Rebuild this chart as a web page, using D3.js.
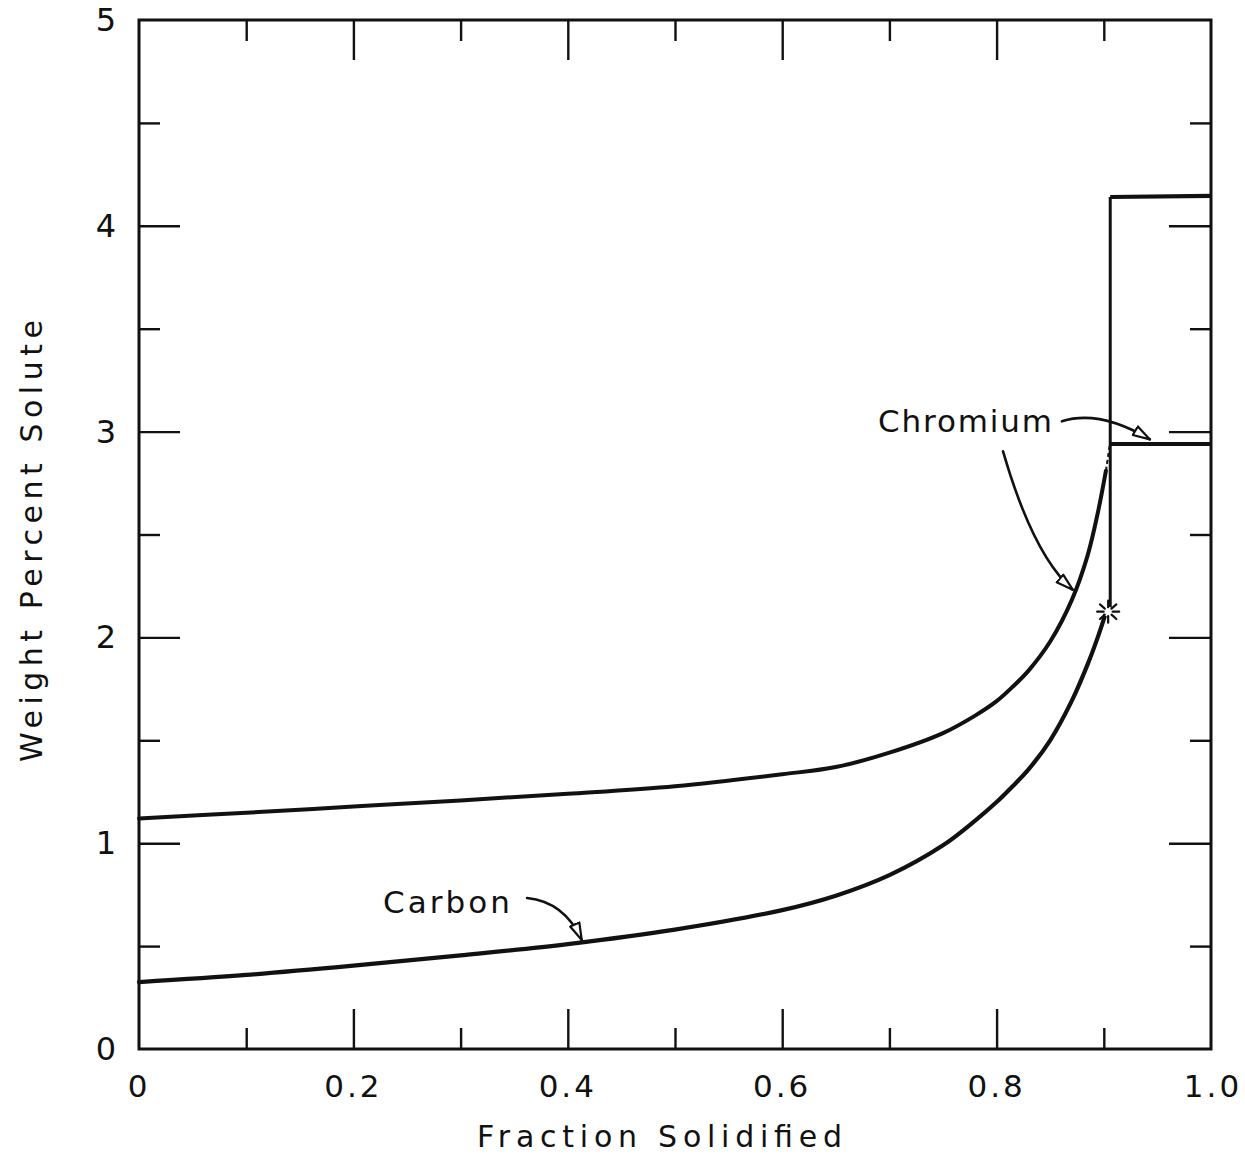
<!DOCTYPE html>
<html>
<head>
<meta charset="utf-8">
<script src="https://cdn.jsdelivr.net/npm/d3@7"></script>
<style>
  html, body { margin: 0; padding: 0; background: #fff; }
  svg text { font-family: "DejaVu Sans", sans-serif; fill: #111; }
</style>
</head>
<body>
<svg id="chart" width="1245" height="1157"></svg>
<script>
// Fraction solidified grid shared by both liquid-composition curves
const fractionSolid = [0, 0.1, 0.2, 0.3, 0.4, 0.5, 0.6, 0.65, 0.7, 0.75, 0.78, 0.8, 0.815, 0.83, 0.85, 0.87, 0.885, 0.895, 0.902];
// Weight percent chromium in the liquid
const chromiumWt = [1.12, 1.148, 1.178, 1.208, 1.24, 1.277, 1.335, 1.37, 1.44, 1.535, 1.62, 1.69, 1.76, 1.84, 1.98, 2.18, 2.40, 2.62, 2.81];
// Weight percent carbon in the liquid
const carbonWt = [0.325, 0.36, 0.405, 0.455, 0.51, 0.58, 0.675, 0.745, 0.845, 0.99, 1.11, 1.20, 1.277, 1.36, 1.50, 1.69, 1.87, 2.01, 2.12];

// Eutectic point and the final-liquid plateaus
const eutecticFraction = 0.905;
const eutecticCarbon = 2.125;
const chromiumPlateau = [[0.902, 2.81], [0.906, 2.95]];   // faint rise into the plateau
const chromiumFinal = [[0.906, 2.94], [1.0, 2.94]];
const carbonFinal = [[0.906, 2.125], [0.906, 4.14], [1.0, 4.145]];

// Axis ticks
const xMajor = [0, 0.2, 0.4, 0.6, 0.8, 1.0];
const xMajorLabels = ["0", "0.2", "0.4", "0.6", "0.8", "1.0"];
const xMinor = [0.1, 0.3, 0.5, 0.7, 0.9];
const yMajor = [0, 1, 2, 3, 4, 5];
const yMajorLabels = ["0", "1", "2", "3", "4", "5"];
const yMinor = [0.5, 1.5, 2.5, 3.5, 4.5];

// Labelled arrows: [start, control, tip] in data units
const carbonArrow = [[0.362, 0.734], [0.397, 0.715], [0.413, 0.530]];
const chromiumArrowCurve = [[0.806, 2.904], [0.834, 2.400], [0.871, 2.232]];
const chromiumArrowStep = [[0.861, 3.050], [0.896, 3.108], [0.943, 2.962]];

const svg = d3.select("#chart");
const x = d3.scaleLinear().domain([0, 1]).range([139, 1211]);
const y = d3.scaleLinear().domain([0, 5]).range([1049, 20]);

const ink = "#111";

// Arrowhead: open, elongated triangle
const defs = svg.append("defs");
defs.append("marker")
  .attr("id", "openHead")
  .attr("viewBox", "-1 -7 20 14")
  .attr("refX", 17).attr("refY", 0)
  .attr("markerWidth", 20).attr("markerHeight", 14)
  .attr("markerUnits", "userSpaceOnUse")
  .attr("orient", "auto")
  .append("path")
  .attr("d", "M0,-5 L17,0 L0,5 Z")
  .attr("fill", "#fff").attr("stroke", ink).attr("stroke-width", 2.2)
  .attr("stroke-linejoin", "round");

// Frame
svg.append("rect")
  .attr("x", x(0)).attr("y", y(5))
  .attr("width", x(1) - x(0)).attr("height", y(0) - y(5))
  .attr("fill", "none").attr("stroke", ink).attr("stroke-width", 3);

// Inward ticks on all four sides
function tickGroup(axis, tf, vals, len) {
  const g = svg.append("g").attr("transform", tf)
    .call(axis.tickValues(vals).tickSize(len).tickFormat(""));
  g.select(".domain").remove();
  g.selectAll(".tick line").attr("stroke", ink).attr("stroke-width", 2.4);
  return g;
}
const innerX = xMajor.filter(v => v > 0 && v < 1);
const innerY = yMajor.filter(v => v > 0 && v < 5);
tickGroup(d3.axisBottom(x), `translate(0,${y(0)})`, innerX, -40);
tickGroup(d3.axisBottom(x), `translate(0,${y(0)})`, xMinor, -21);
tickGroup(d3.axisTop(x), `translate(0,${y(5)})`, innerX, -40);
tickGroup(d3.axisTop(x), `translate(0,${y(5)})`, xMinor, -21);
tickGroup(d3.axisLeft(y), `translate(${x(0)},0)`, innerY, -41);
tickGroup(d3.axisLeft(y), `translate(${x(0)},0)`, yMinor, -21);
tickGroup(d3.axisRight(y), `translate(${x(1)},0)`, innerY, -42);
tickGroup(d3.axisRight(y), `translate(${x(1)},0)`, yMinor, -21);

// Tick labels
svg.append("g").selectAll("text").data(xMajor).join("text")
  .attr("x", d => x(d) + (d === 1 ? 2 : 0)).attr("y", 1097)
  .attr("text-anchor", "middle")
  .attr("font-size", 31).attr("letter-spacing", 3)
  .text((d, i) => xMajorLabels[i]);

svg.append("g").selectAll("text").data(yMajor).join("text")
  .attr("x", 116).attr("y", d => y(d) + 11)
  .attr("text-anchor", "end")
  .attr("font-size", 32)
  .text((d, i) => yMajorLabels[i]);

// Axis titles
svg.append("text")
  .attr("x", 477).attr("y", 1147)
  .attr("font-size", 30)
  .attr("textLength", 365).attr("lengthAdjust", "spacing")
  .text("Fraction Solidified");

svg.append("text")
  .attr("transform", "translate(42,762) rotate(-90)")
  .attr("x", 0).attr("y", 0)
  .attr("font-size", 30)
  .attr("textLength", 442).attr("lengthAdjust", "spacing")
  .text("Weight Percent Solute");

// Composition curves
const line = d3.line().x(d => x(d[0])).y(d => y(d[1])).curve(d3.curveCatmullRom.alpha(0.5));
const crPts = fractionSolid.map((f, i) => [f, chromiumWt[i]]);
const cPts = fractionSolid.map((f, i) => [f, carbonWt[i]]);

svg.append("path").attr("d", line(crPts))
  .attr("fill", "none").attr("stroke", ink).attr("stroke-width", 4)
  .attr("stroke-linecap", "round");
svg.append("path").attr("d", line(cPts))
  .attr("fill", "none").attr("stroke", ink).attr("stroke-width", 4.2)
  .attr("stroke-linecap", "round");

const straight = d3.line().x(d => x(d[0])).y(d => y(d[1]));
svg.append("path").attr("d", straight(chromiumPlateau))
  .attr("fill", "none").attr("stroke", ink).attr("stroke-width", 2)
  .attr("stroke-dasharray", "4,3");
svg.append("path").attr("d", straight(chromiumFinal))
  .attr("fill", "none").attr("stroke", ink).attr("stroke-width", 4)
  .attr("stroke-linejoin", "round");
// Carbon jumps at the eutectic
svg.append("path").attr("d", straight(carbonFinal.slice(0, 2)))
  .attr("fill", "none").attr("stroke", ink).attr("stroke-width", 3);
svg.append("path").attr("d", straight(carbonFinal.slice(1)))
  .attr("fill", "none").attr("stroke", ink).attr("stroke-width", 4.2)
  .attr("stroke-linejoin", "round");

// Eutectic burst
const cx = x(eutecticFraction) - 1, cy = y(eutecticCarbon);
const burst = svg.append("g").attr("transform", `translate(${cx},${cy})`);
burst.append("circle").attr("r", 5).attr("fill", "#fff");
[0, 42, 90, 138, 180, 222, 270, 318].forEach(a => {
  const r = a * Math.PI / 180;
  burst.append("line")
    .attr("x1", 4.5 * Math.cos(r)).attr("y1", -4.5 * Math.sin(r))
    .attr("x2", 11 * Math.cos(r)).attr("y2", -11 * Math.sin(r))
    .attr("stroke", ink).attr("stroke-width", 2.2).attr("stroke-linecap", "round");
});

// Labels with arrows
function arrow(p) {
  const path = d3.path();
  path.moveTo(x(p[0][0]), y(p[0][1]));
  path.quadraticCurveTo(x(p[1][0]), y(p[1][1]), x(p[2][0]), y(p[2][1]));
  svg.append("path").attr("d", path.toString())
    .attr("fill", "none").attr("stroke", ink).attr("stroke-width", 2.6)
    .attr("stroke-linecap", "round")
    .attr("marker-end", "url(#openHead)");
}
arrow(carbonArrow);
arrow(chromiumArrowCurve);
arrow(chromiumArrowStep);

svg.append("text")
  .attr("x", 383).attr("y", 913)
  .attr("font-size", 31)
  .attr("textLength", 127).attr("lengthAdjust", "spacing")
  .text("Carbon");

svg.append("text")
  .attr("x", 878).attr("y", 432)
  .attr("font-size", 31)
  .attr("textLength", 174).attr("lengthAdjust", "spacing")
  .text("Chromium");
</script>
</body>
</html>
